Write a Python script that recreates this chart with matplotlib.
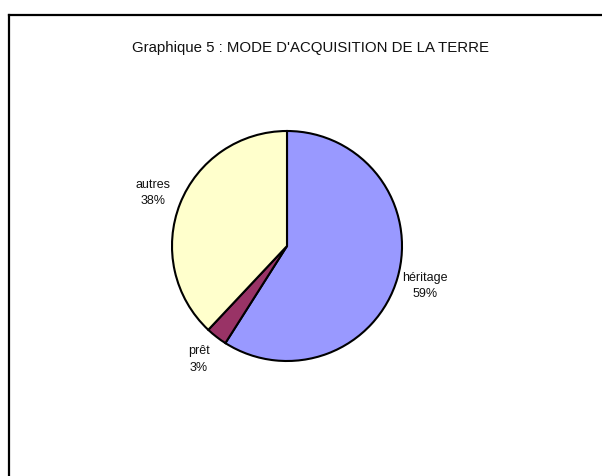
import matplotlib
matplotlib.use("Agg")
import matplotlib.pyplot as plt
from matplotlib.lines import Line2D

categories = ["héritage", "prêt", "autres"]
values = [59, 3, 38]
colors = ["#9999FF", "#993366", "#FFFFCC"]
title = "Graphique 5 : MODE D'ACQUISITION DE LA TERRE"

W, H, DPI = 602, 476, 100
fig = plt.figure(figsize=(W / DPI, H / DPI), dpi=DPI)
fig.patch.set_facecolor("white")

# frame (only left and top edges visible)
fx, fy = 9 / W, 1 - 15 / H
fig.add_artist(Line2D([fx, fx], [-0.1, fy], transform=fig.transFigure, color="black", lw=1.6))
fig.add_artist(Line2D([fx, 1.1], [fy, fy], transform=fig.transFigure, color="black", lw=1.6))

fig.text(310 / W, 1 - 48 / H, title, ha="center", va="center",
         fontsize=10.8, family="Liberation Sans", color="#111111")

cx, cy, R = 287, 246, 115
ax = fig.add_axes([(cx - R) / W, (H - cy - R) / H, 2 * R / W, 2 * R / H])
labels = [f"{c}\n{v}%" for c, v in zip(categories, values)]
wedges, texts = ax.pie(values, colors=colors, startangle=90, counterclock=False,
                       labels=labels, labeldistance=1.25,
                       wedgeprops=dict(edgecolor="black", linewidth=1.5),
                       textprops=dict(fontsize=9, family="Liberation Sans", color="#111111",
                                      linespacing=1.5))
for t in texts:
    t.set_ha("center")
    t.set_va("center")
ax.set_xlim(-1, 1)
ax.set_ylim(-1, 1)
ax.set_aspect("auto")
ax.axis("off")

fig.savefig("out.png", dpi=DPI, facecolor="white")
